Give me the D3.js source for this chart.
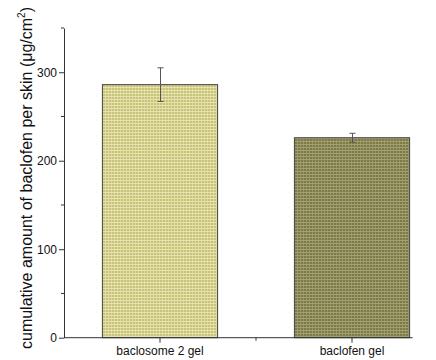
<!DOCTYPE html>
<html>
<head>
<meta charset="utf-8">
<script src="https://cdn.jsdelivr.net/npm/d3@7"></script>
<style>
  body { margin: 0; background: #fff; }
  text { font-family: 'Liberation Sans', Arial, sans-serif; }
</style>
</head>
<body>
<svg id="chart"></svg>
<script>
const width = 436;
const height = 360;

const margins = { left: 64, right: -12, top: 28, bottom: 22 };

// data
const categories = ['baclosome 2 gel', 'baclofen gel'];
const means = [286, 226];
const errors = [19, 5];
const majorTicks = [0, 100, 200, 300];
const minorTicks = [50, 150, 250, 350];

const fills = [
  { id: 'pat1', base: '#c8c375', light: '#e6e3b2' },
  { id: 'pat2', base: '#7c7b47', light: '#a3a274' }
];

const svg = d3.select('#chart')
    .attr('width', width)
    .attr('height', height);

const defs = svg.append('defs');
for (const f of fills) {
  const p = defs.append('pattern')
      .attr('id', f.id)
      .attr('width', 3)
      .attr('height', 3)
      .attr('patternUnits', 'userSpaceOnUse');
  p.append('rect').attr('width', 3).attr('height', 3).attr('fill', f.base);
  p.append('rect').attr('width', 3).attr('height', 1).attr('fill', f.light);
  p.append('rect').attr('width', 1).attr('height', 3).attr('fill', f.light).attr('opacity', 0.7);
}

const x = d3.scaleBand()
    .domain(categories)
    .range([margins.left, width - margins.right])
    .paddingInner(0.4)
    .paddingOuter(0.2);

const y = d3.scaleLinear()
    .domain([0, 350])
    .range([height - margins.bottom - 0.3, margins.top]);

// bars
svg.append('g')
  .selectAll('rect')
  .data(categories)
  .join('rect')
    .attr('x', d => x(d))
    .attr('y', (d, i) => y(means[i]))
    .attr('width', x.bandwidth())
    .attr('height', (d, i) => y(0) - y(means[i]))
    .attr('fill', (d, i) => `url(#${fills[i].id})`)
    .attr('stroke', '#444')
    .attr('stroke-width', 1);

// error bars
const eb = svg.append('g')
    .attr('stroke', '#555')
    .attr('stroke-width', 1);
categories.forEach((c, i) => {
  const cx = Math.round(x(c) + x.bandwidth() / 2) + 0.5;
  eb.append('line')
      .attr('x1', cx).attr('x2', cx)
      .attr('y1', y(means[i] + errors[i])).attr('y2', y(means[i] - errors[i]));
  for (const v of [means[i] + errors[i], means[i] - errors[i]]) {
    eb.append('line')
        .attr('x1', cx - 3).attr('x2', cx + 3)
        .attr('y1', y(v)).attr('y2', y(v));
  }
});

// y axis
const yAxis = svg.append('g')
    .attr('transform', `translate(${margins.left}, 0)`)
    .call(d3.axisLeft(y).tickValues(majorTicks).tickSize(5).tickSizeOuter(0));
yAxis.select('.domain').attr('stroke', '#333');
yAxis.selectAll('.tick line').attr('stroke', '#333');
yAxis.selectAll('.tick text')
    .attr('font-size', 12)
    .attr('fill', '#111')
    .attr('x', -7);
yAxis.selectAll('.minor')
  .data(minorTicks)
  .join('line')
    .attr('class', 'minor')
    .attr('x1', -3).attr('x2', 0)
    .attr('y1', d => y(d)).attr('y2', d => y(d))
    .attr('stroke', '#333');

// x axis
const lastCat = categories[categories.length - 1];
const axisEnd = x(lastCat) + x.bandwidth() + 3;
const xAxis = svg.append('g')
    .attr('transform', `translate(0, ${y(0)})`)
    .call(d3.axisBottom(x).tickSize(5).tickSizeOuter(0));
xAxis.select('.domain').remove();
xAxis.append('line')
    .attr('x1', margins.left).attr('x2', axisEnd)
    .attr('stroke', '#333');
xAxis.selectAll('.tick line').attr('stroke', '#333');
xAxis.selectAll('.tick text')
    .attr('font-size', 12)
    .attr('fill', '#111')
    .attr('y', 9);
xAxis.append('line')
    .attr('x1', (x(categories[0]) + x(lastCat)) / 2 + x.bandwidth() / 2)
    .attr('x2', (x(categories[0]) + x(lastCat)) / 2 + x.bandwidth() / 2)
    .attr('y1', 0).attr('y2', 3)
    .attr('stroke', '#333');

// y label
const yLabel = svg.append('text')
    .attr('transform', 'translate(32, 178) rotate(-90)')
    .attr('text-anchor', 'middle')
    .attr('font-size', 16)
    .attr('fill', '#111');
yLabel.append('tspan').text('cumulative amount of baclofen per skin (\u03bcg/cm');
yLabel.append('tspan').attr('font-size', 10).attr('dy', -7).text('2');
yLabel.append('tspan').attr('dy', 7).text(')');
</script>
</body>
</html>
